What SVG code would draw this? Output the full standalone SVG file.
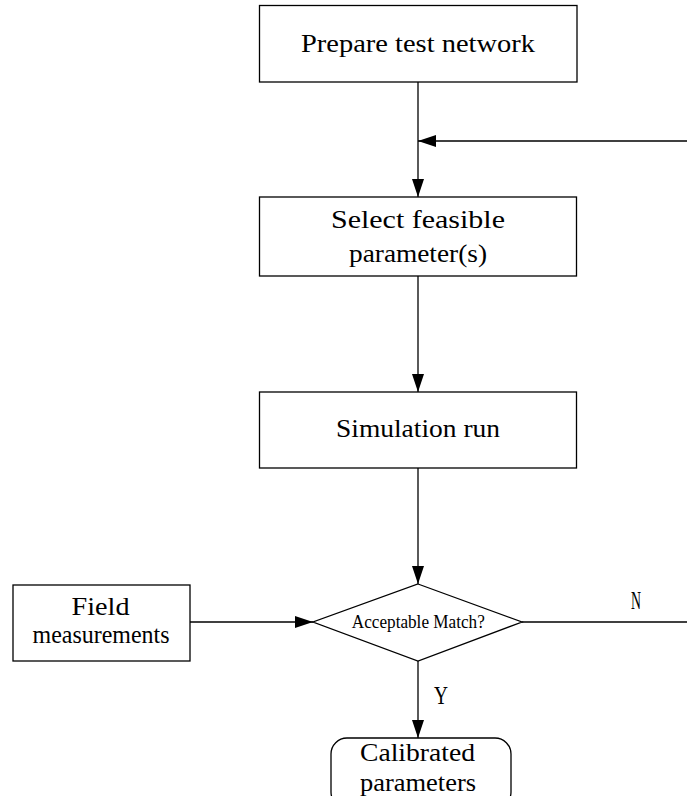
<svg xmlns="http://www.w3.org/2000/svg" width="687" height="796" viewBox="0 0 687 796">
<defs>
<marker id="arr" markerWidth="18" markerHeight="12" refX="18" refY="6" orient="auto" markerUnits="userSpaceOnUse">
<path d="M0,0 L18,6 L0,12 Z" fill="#000"/>
</marker>
<style>
.box{fill:#fff;stroke:#000;stroke-width:1.3}
.t{font-family:"Liberation Serif","DejaVu Serif",serif;font-size:26px;fill:#000;text-anchor:middle}
.s{font-size:19px}
.c{stroke:#000;stroke-width:1.3;fill:none}
</style>
</defs>
<rect width="687" height="796" fill="#fff"/>
<g id="connectors">
<line class="c" x1="418" y1="82" x2="418" y2="197" marker-end="url(#arr)"/>
<line class="c" x1="687" y1="141" x2="418" y2="141" marker-end="url(#arr)"/>
<line class="c" x1="418" y1="276" x2="418" y2="392" marker-end="url(#arr)"/>
<line class="c" x1="418" y1="468" x2="418" y2="584" marker-end="url(#arr)"/>
<line class="c" x1="190" y1="622" x2="313" y2="622" marker-end="url(#arr)"/>
<line class="c" x1="522" y1="622" x2="687" y2="622"/>
<line class="c" x1="418" y1="661" x2="418" y2="738" marker-end="url(#arr)"/>
<text class="t" x="636" y="609" textLength="10" lengthAdjust="spacingAndGlyphs">N</text>
<text class="t" x="441" y="704" textLength="14" lengthAdjust="spacingAndGlyphs">Y</text>
</g>
<g id="prepare">
<rect class="box" x="259.5" y="5.5" width="317.5" height="76.5"/>
<text class="t" x="418" y="52" textLength="234" lengthAdjust="spacingAndGlyphs">Prepare test network</text>
</g>
<g id="select">
<rect class="box" x="259.5" y="197" width="317" height="79"/>
<text class="t" x="418" y="228" textLength="174" lengthAdjust="spacingAndGlyphs">Select feasible</text>
<text class="t" x="418" y="262" textLength="138" lengthAdjust="spacingAndGlyphs">parameter(s)</text>
</g>
<g id="simulation">
<rect class="box" x="259.5" y="392" width="317" height="76"/>
<text class="t" x="418" y="437" textLength="164" lengthAdjust="spacingAndGlyphs">Simulation run</text>
</g>
<g id="field">
<rect class="box" x="13" y="585" width="177" height="76"/>
<text class="t" x="100.5" y="615" textLength="58" lengthAdjust="spacingAndGlyphs">Field</text>
<text class="t" x="101" y="643" textLength="137" lengthAdjust="spacingAndGlyphs">measurements</text>
</g>
<g id="decision">
<polygon class="box" points="418,584 522,622 418,661 313,622"/>
<text class="t s" x="418.3" y="628" textLength="133" lengthAdjust="spacingAndGlyphs">Acceptable Match?</text>
</g>
<g id="calibrated">
<rect class="box" x="331" y="738" width="180" height="70" rx="16"/>
<text class="t" x="417.5" y="761" textLength="115" lengthAdjust="spacingAndGlyphs">Calibrated</text>
<text class="t" x="418" y="791" textLength="116" lengthAdjust="spacingAndGlyphs">parameters</text>
</g>
</svg>
